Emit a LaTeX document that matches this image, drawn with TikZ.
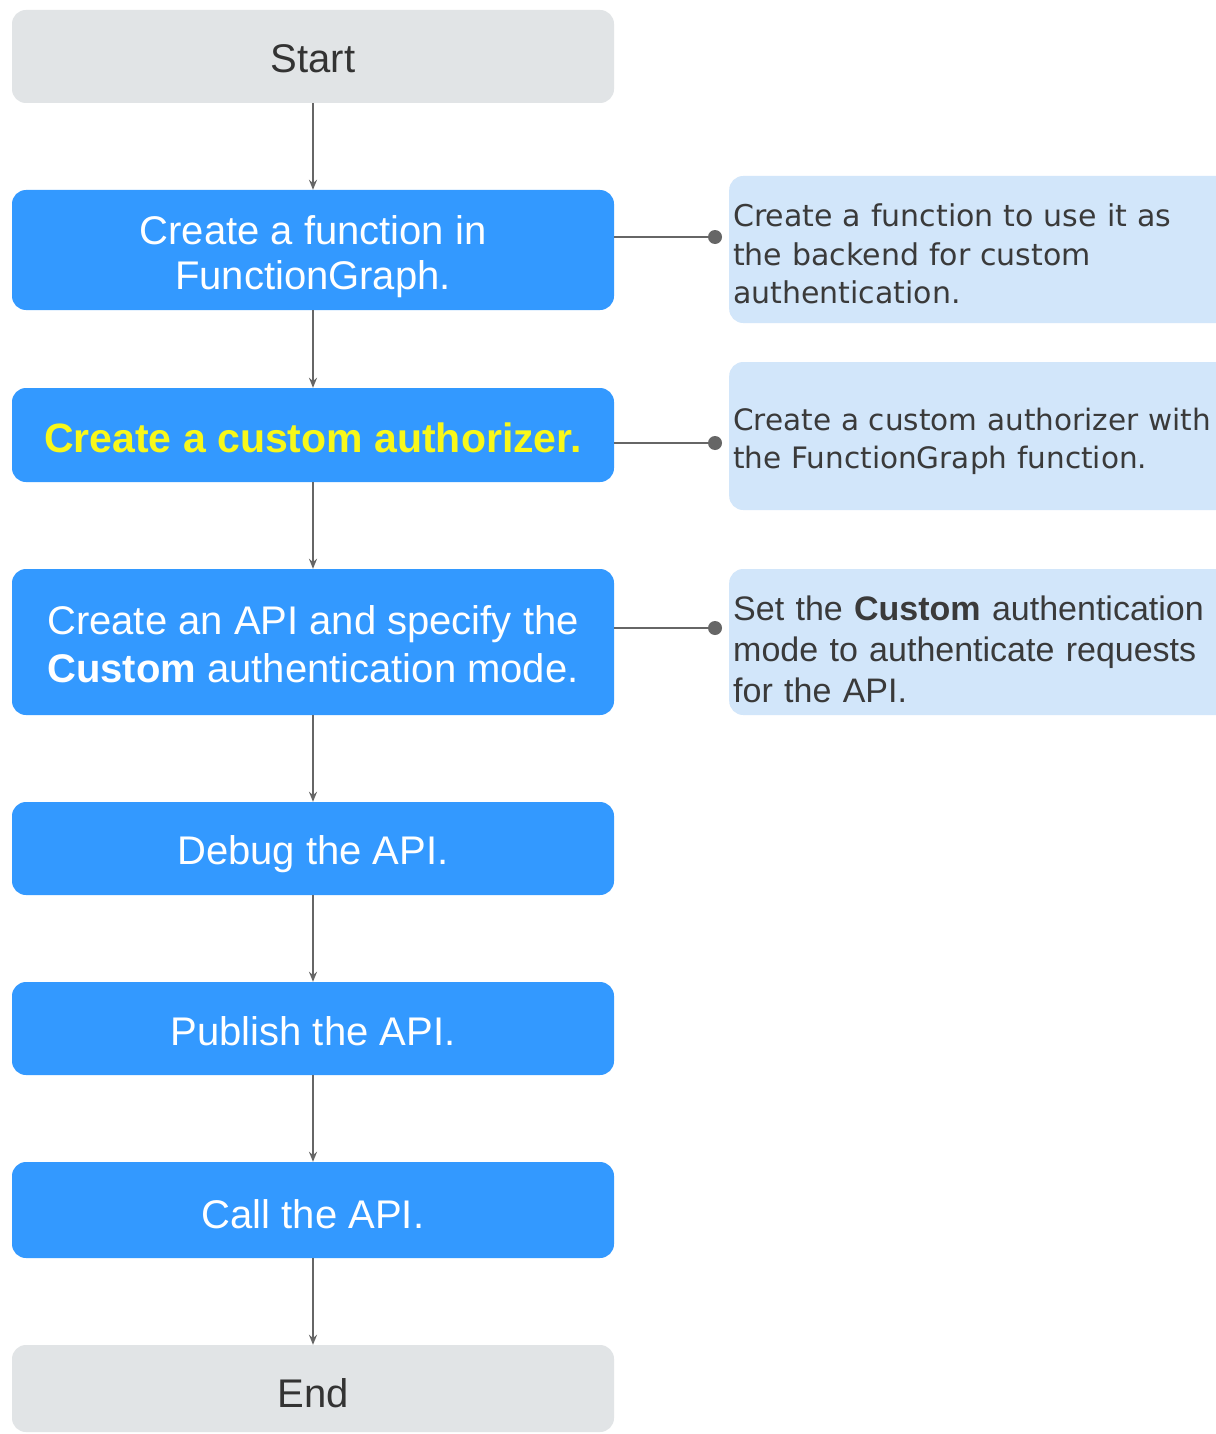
\documentclass[tikz,border=0pt]{standalone}
\usepackage{fontspec}
\setmainfont{Liberation Sans}
\newfontfamily\notefont{DejaVu Sans}
\usetikzlibrary{arrows.meta}
\definecolor{boxblue}{HTML}{3399FF}
\definecolor{boxgray}{HTML}{E1E4E6}
\definecolor{notebg}{HTML}{D2E6FA}
\definecolor{linegray}{HTML}{666666}
\definecolor{darktext}{HTML}{333333}
\definecolor{hiyellow}{HTML}{F8F81A}
\definecolor{notetext}{HTML}{3A3A3A}
\newcommand\shiftdown[2]{\raisebox{-#1}[\height][\depth]{#2}}
\newcommand\clines[1]{\begin{tabular}{@{}c@{}}#1\end{tabular}}
\newcommand\llines[1]{\begin{tabular}{@{}l@{}}#1\end{tabular}}
\begin{document}
\begin{tikzpicture}[x=1pt,y=-1pt,
  stepbox/.style={rounded corners=14pt, fill=boxblue, text=white, minimum width=602pt, inner sep=0pt, align=center, font=\fontsize{40}{45}\selectfont},
  termbox/.style={rounded corners=14pt, fill=boxgray, text=darktext, minimum width=602pt, inner sep=0pt, align=center, font=\fontsize{40}{45}\selectfont},
  notebox/.style={rounded corners=14pt, fill=notebg, text=notetext, anchor=west, text width=520pt, inner xsep=4pt, inner ysep=0pt, align=left},
  flow/.style={draw=linegray, line width=2pt, -{Stealth[length=10pt,width=8pt]}},
  link/.style={draw=linegray, line width=2pt},
  dotnode/.style={circle, fill=linegray, minimum size=14pt, inner sep=0pt}
]
\useasboundingbox (0,0) rectangle (1215,1434);
\fill[white] (0,0) rectangle (1215,1434);

% main flow
\node[termbox, minimum height=93pt] (start) at (313,56.5) {\shiftdown{2pt}{Start}};
\node[stepbox, minimum height=120pt] (b1) at (313,250) {\shiftdown{8pt}{\clines{Create a function in\\FunctionGraph.}}};
\node[stepbox, minimum height=94pt, text=hiyellow, font=\fontsize{41}{45}\selectfont\bfseries] (b2) at (313,435) {\shiftdown{3pt}{Create a custom authorizer.}};
\node[stepbox, minimum height=146pt, font=\fontsize{40}{48}\selectfont] (b3) at (313,642) {\shiftdown{7pt}{\clines{Create an API and specify the\\\textbf{Custom} authentication mode.}}};
\node[stepbox, minimum height=93pt] (b4) at (313,848.5) {\shiftdown{6pt}{Debug the API.}};
\node[stepbox, minimum height=93pt] (b5) at (313,1028.5) {\shiftdown{3pt}{Publish the API.}};
\node[stepbox, minimum height=96pt] (b6) at (313,1210) {\shiftdown{4pt}{Call the API.}};
\node[termbox, minimum height=87pt] (end) at (313,1388.5) {\shiftdown{5pt}{End}};

\draw[flow] (start) -- (b1);
\draw[flow] (b1) -- (b2);
\draw[flow] (b2) -- (b3);
\draw[flow] (b3) -- (b4);
\draw[flow] (b4) -- (b5);
\draw[flow] (b5) -- (b6);
\draw[flow] (b6) -- (end);

% notes
\node[notebox, minimum height=147pt, font=\notefont\fontsize{30}{38.5}\selectfont] (n1) at (729,249.5) {\shiftdown{8pt}{\llines{Create a function to use it as\\the backend for custom\\authentication.}}};
\node[notebox, minimum height=148pt, font=\notefont\fontsize{29.5}{38}\selectfont] (n2) at (729,436) {\shiftdown{6pt}{\llines{Create a custom authorizer with\\the FunctionGraph function.}}};
\node[notebox, minimum height=146pt, font=\fontsize{34}{41}\selectfont] (n3) at (729,642) {\shiftdown{11pt}{\llines{Set the \textbf{Custom} authentication\\mode to authenticate requests\\for the API.}}};

\node[dotnode] (d1) at (715,237) {};
\node[dotnode] (d2) at (715,443) {};
\node[dotnode] (d3) at (715,628) {};

\draw[link] (b1.east |- d1) -- (d1);
\draw[link] (b2.east |- d2) -- (d2);
\draw[link] (b3.east |- d3) -- (d3);
\end{tikzpicture}
\end{document}
